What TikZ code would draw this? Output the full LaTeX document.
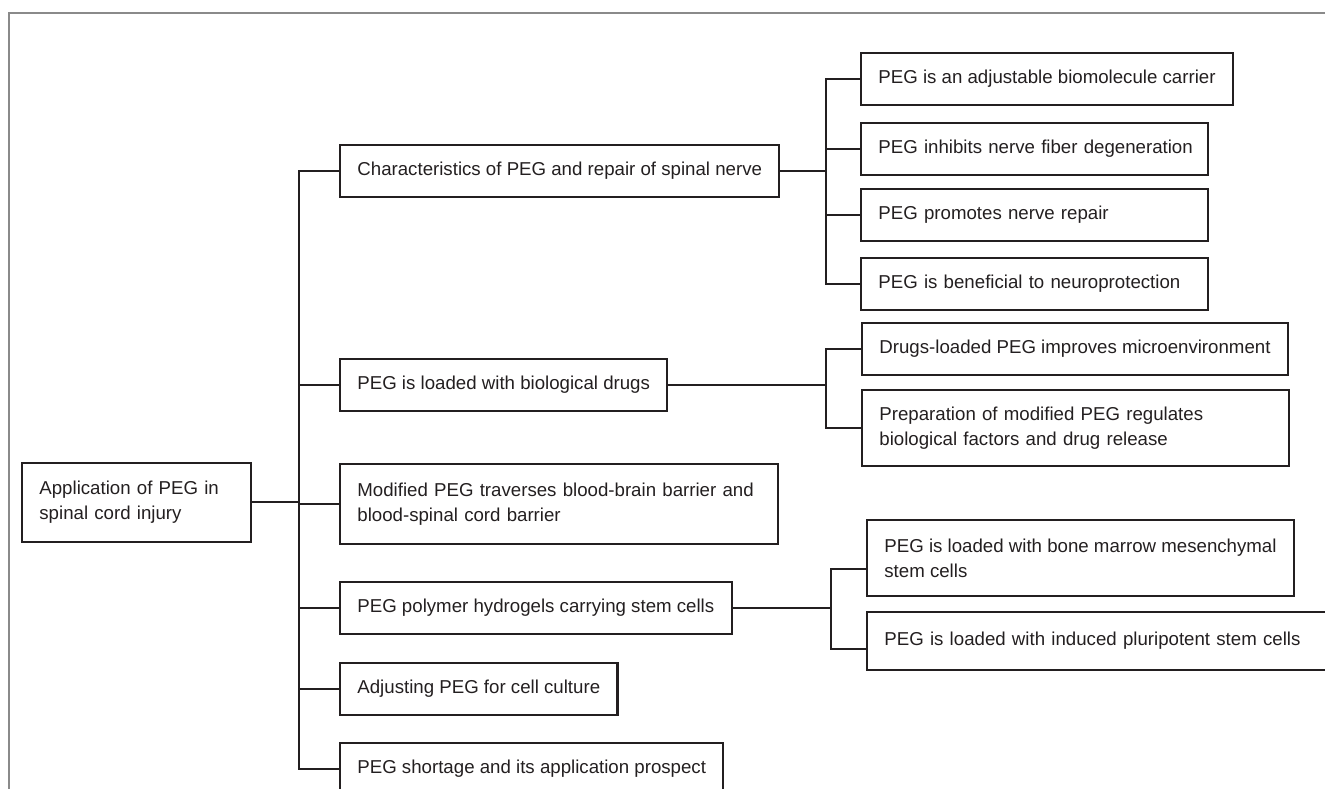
\documentclass[tikz,border=0pt]{standalone}
\usepackage{fontspec}
\setmainfont{Liberation Sans}
\definecolor{ink}{HTML}{231F20}
\definecolor{framegray}{HTML}{8A8A8A}

\begin{document}
\begin{tikzpicture}[x=0.75pt,y=-0.75pt,
  box/.style={draw=ink,line width=1.6pt,text=ink,anchor=north west,align=left,
    inner xsep=13pt,inner ysep=0pt,minimum height=39pt,
    font=\fontsize{14}{18.75}\selectfont},
  link/.style={draw=ink,line width=1.5pt,line cap=rect}]
\useasboundingbox (0,0) rectangle (1325,789);
\clip (0,0) rectangle (1325,789);
\draw[framegray,line width=1.2pt] (9,13) rectangle (1340,800);

% root
\node[box,minimum height=59pt,text width=145.75pt] (root) at (21,462) {Application of PEG in\\spinal cord injury};

% first level
\node[box] (char) at (339,144) {Characteristics of PEG and repair of spinal nerve};
\node[box] (drugs) at (339,358) {PEG is loaded with biological drugs};
\node[box,minimum height=60pt,text width=302.5pt] (bbb) at (339,463) {Modified PEG traverses blood-brain barrier and\\blood-spinal cord barrier};
\node[box] (stem) at (339,581) {PEG polymer hydrogels carrying stem cells};
\node[box] (culture) at (339,662) {Adjusting PEG for cell culture};
\node[box] (prospect) at (339,742) {PEG shortage and its application prospect};

% second level, characteristics
\node[box] (carrier) at (860,52) {PEG is an adjustable biomolecule carrier};
\node[box,text width=234pt] (degen) at (860,122) {\mbox{PEG inhibits nerve fiber degeneration}};
\node[box,text width=234pt] (nrepair) at (860,188) {PEG promotes nerve repair};
\node[box,text width=234pt] (neuro) at (860,257) {PEG is beneficial to neuroprotection};

% second level, drugs
\node[box] (micro) at (861,322) {Drugs-loaded PEG improves microenvironment};
\node[box,minimum height=57pt,text width=294pt] (release) at (861,389) {Preparation of modified PEG regulates\\biological factors and drug release};

% second level, stem cells
\node[box,minimum height=57pt] (marrow) at (866,519) {PEG is loaded with bone marrow mesenchymal\\stem cells};
\node[box,minimum height=43.5pt,text width=334.5pt] (ips) at (866,611) {PEG is loaded with induced pluripotent stem cells};

% main trunk
\draw[link] (root.east) -- ++(47,0) coordinate (hub);
\draw[link] (hub |- char.west) -- (hub |- prospect.west);
\foreach \n in {char,drugs,bbb,stem,culture,prospect}
  \draw[link] (hub |- \n.west) -- (\n.west);

% characteristics branch
\draw[link] (char.east) -- ++(46,0) coordinate (hubA);
\draw[link] (hubA |- carrier.west) -- (hubA |- neuro.west);
\foreach \n in {carrier,degen,nrepair,neuro}
  \draw[link] (hubA |- \n.west) -- (\n.west);

% drugs branch
\path (micro.west) ++(-35,0) coordinate (hubB);
\draw[link] (drugs.east) -- (hubB |- drugs.east);
\draw[link] (hubB |- micro.west) -- (hubB |- release.west);
\foreach \n in {micro,release}
  \draw[link] (hubB |- \n.west) -- (\n.west);

% stem cell branch
\path (marrow.west) ++(-35,0) coordinate (hubC);
\coordinate (mIn) at ([yshift=-8pt]marrow.west);
\coordinate (iIn) at ([yshift=-6pt]ips.west);
\draw[link] (stem.east) -- (hubC |- stem.east);
\draw[link] (hubC |- mIn) -- (hubC |- iIn);
\draw[link] (hubC |- mIn) -- (mIn);
\draw[link] (hubC |- iIn) -- (iIn);
\end{tikzpicture}
\end{document}
